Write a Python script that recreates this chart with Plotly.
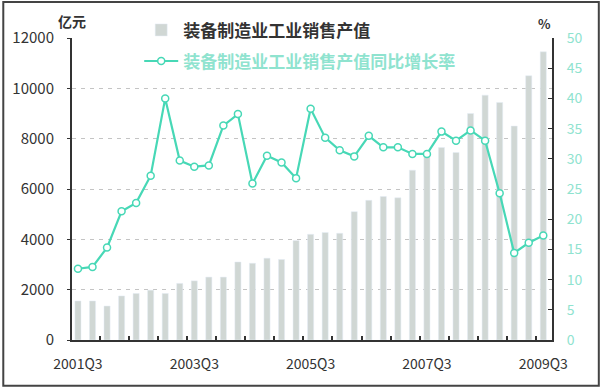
import plotly.graph_objects as go

quarters = ["2001Q3","2001Q4","2002Q1","2002Q2","2002Q3","2002Q4","2003Q1","2003Q2",
            "2003Q3","2003Q4","2004Q1","2004Q2","2004Q3","2004Q4","2005Q1","2005Q2",
            "2005Q3","2005Q4","2006Q1","2006Q2","2006Q3","2006Q4","2007Q1","2007Q2",
            "2007Q3","2007Q4","2008Q1","2008Q2","2008Q3","2008Q4","2009Q1","2009Q2","2009Q3"]
sales = [1550, 1550, 1350, 1750, 1850, 1980, 1850, 2250,
         2350, 2500, 2500, 3100, 3050, 3250, 3200, 3950,
         4200, 4270, 4240, 5100, 5550, 5700, 5650, 6750,
         7300, 7650, 7450, 9000, 9730, 9440, 8500, 10500, 11450]
growth = [11.8, 12.1, 15.3, 21.3, 22.7, 27.2, 40.0, 29.7,
          28.7, 28.9, 35.5, 37.4, 25.9, 30.5, 29.4, 26.8,
          38.3, 33.5, 31.4, 30.4, 33.8, 31.9, 31.9, 30.8,
          30.8, 34.5, 33.0, 34.7, 33.0, 24.3, 14.4, 16.1, 17.3]
label_idx = [0, 8, 16, 24, 32]
left_ticks = [0, 2000, 4000, 6000, 8000, 10000, 12000]
right_ticks = [0, 5, 10, 15, 20, 25, 30, 35, 40, 45, 50]
bar_name = "装备制造业工业销售产值"
line_name = "装备制造业工业销售产值同比增长率"

x = list(range(len(quarters)))
BAR = "#d0d7d4"
TEAL = "#47d8b6"
TEAL_TXT = "#8fe3cf"
DARK = "#333333"
FONT = "Noto Sans CJK SC"

fig = go.Figure()
fig.add_trace(go.Bar(x=x, y=sales, name="<b>" + bar_name + "</b>", marker_color=BAR,
                     width=0.42, legendgroup="a", yaxis="y"))
fig.add_trace(go.Scatter(x=x, y=growth, name='<b><span style="color:%s">%s</span></b>' % (TEAL_TXT, line_name),
                         mode="lines+markers", yaxis="y2", legendgroup="b",
                         line=dict(color=TEAL, width=2.2),
                         marker=dict(symbol="circle", size=7, color="white",
                                     line=dict(color=TEAL, width=1.5))))

W, H = 600, 387
ml, mr, mt, mb = 70, 48, 37, 47
pw, ph = W - ml - mr, H - mt - mb

fig.update_layout(
    width=W, height=H,
    margin=dict(l=ml, r=mr, t=mt, b=mb, pad=0),
    paper_bgcolor="white", plot_bgcolor="white",
    font=dict(family=FONT, color=DARK),
    showlegend=True,
    legend=dict(x=0.14, y=1.085, xanchor="left", yanchor="top",
                bgcolor="rgba(0,0,0,0)", font=dict(size=17, color=DARK, family=FONT),
                traceorder="grouped", tracegroupgap=6, itemwidth=34),
    xaxis=dict(range=[-0.41, 32.6], tickmode="array", tickvals=label_idx,
               ticktext=[quarters[i] for i in label_idx], ticks="", showgrid=False,
               showline=True, linecolor=DARK, linewidth=2, zeroline=False,
               ticklabelstandoff=10,
               tickfont=dict(size=14, color=DARK, family=FONT),
               minor=dict(tickvals=[i + 1.5 for i in range(0, 31, 2)], ticks="inside",
                          ticklen=4, tickcolor=DARK, tickwidth=2, showgrid=False)),
    yaxis=dict(range=[0, 12000], tickmode="array", tickvals=left_ticks,
               ticktext=[str(v) for v in left_ticks], showgrid=True,
               gridcolor="#c4c4c4", griddash="4px,5px", gridwidth=1, zeroline=False,
               showline=True, linecolor=DARK, linewidth=2, ticks="outside",
               ticklen=3, tickcolor=DARK, ticklabelstandoff=10,
               tickfont=dict(size=15, color=DARK, family=FONT)),
    yaxis2=dict(range=[0, 50], tickmode="array", tickvals=right_ticks,
                ticktext=[str(v) for v in right_ticks], overlaying="y", side="right",
                showgrid=False, zeroline=False, showline=True, linecolor=DARK,
                linewidth=2, ticks="inside", ticklen=4, tickcolor=DARK,
                ticklabelstandoff=10,
                tickfont=dict(size=14, color=TEAL_TXT, family=FONT)),
    annotations=[
        dict(text="<b>亿元</b>", xref="paper", yref="paper", x=-16 / pw, y=1.015, xanchor="left",
             yanchor="bottom", showarrow=False, font=dict(size=14, color=DARK, family=FONT)),
        dict(text="<b>%</b>", xref="paper", yref="paper", x=0.985, y=1.01, xanchor="center",
             yanchor="bottom", showarrow=False, font=dict(size=13, color=DARK, family=FONT)),
    ],
    shapes=[dict(type="rect", xref="paper", yref="paper",
                 x0=(1 - ml) / pw, x1=(W - 1 - ml) / pw,
                 y0=-(H - 1 - (H - mb)) / ph, y1=(ph + mt - 1) / ph,
                 line=dict(color="#444444", width=2), fillcolor="rgba(0,0,0,0)", layer="above")],
)

fig.write_html("out.html")
